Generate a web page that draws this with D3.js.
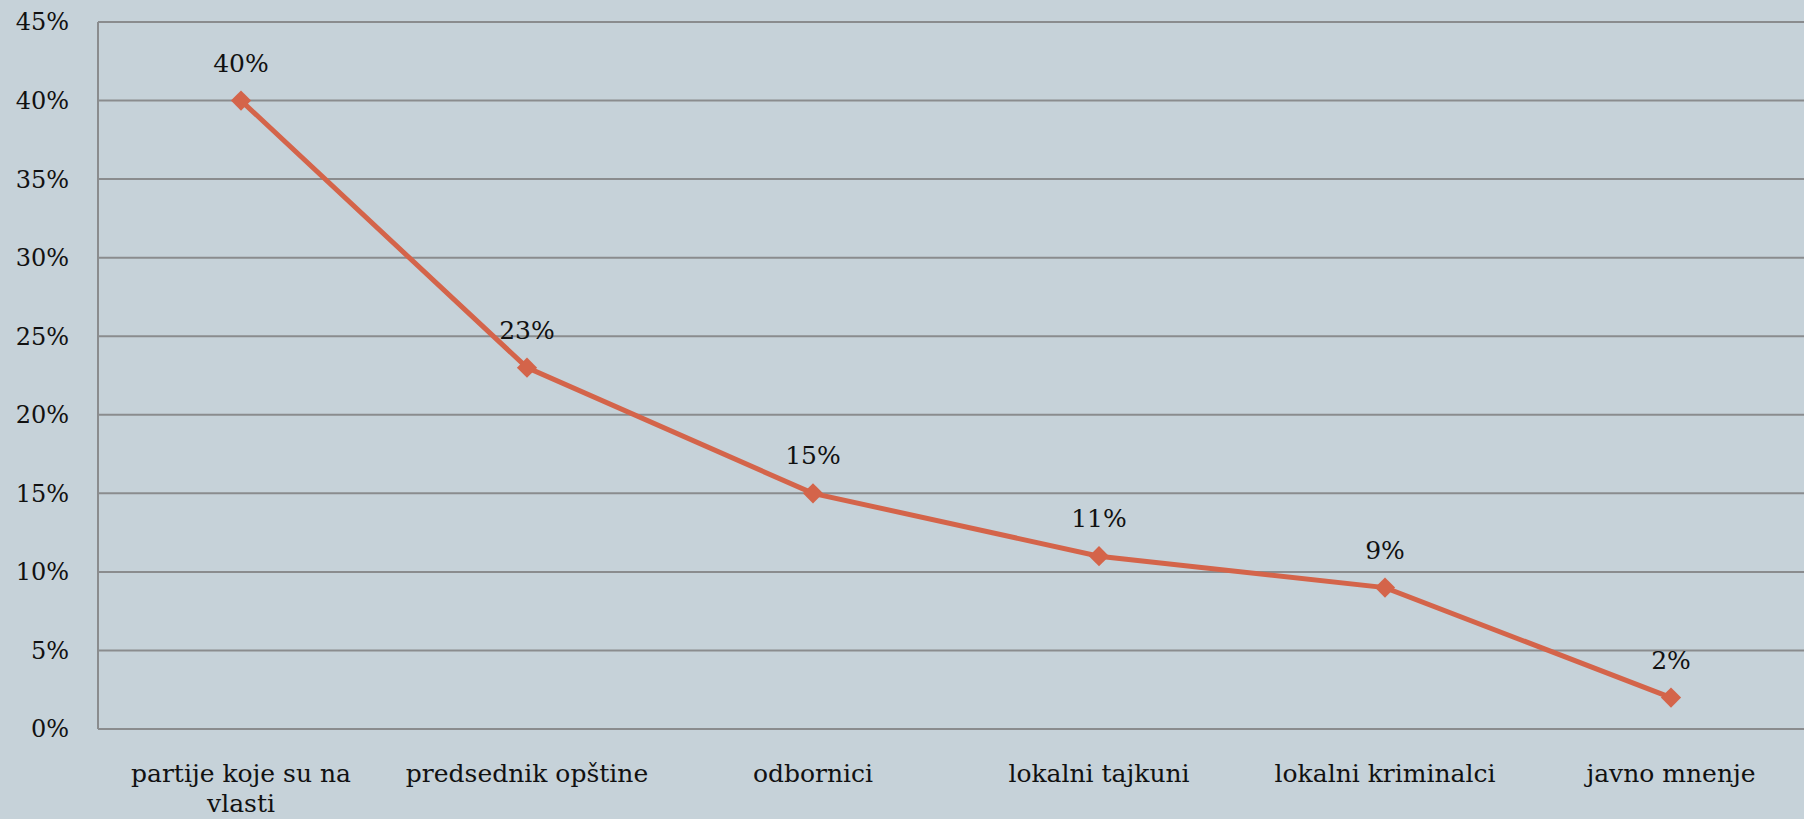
<!DOCTYPE html>
<html>
<head>
<meta charset="utf-8">
<script src="https://cdn.jsdelivr.net/npm/d3@7"></script>
<style>
  body { margin: 0; background: #c6d2d9; overflow: hidden; }
  text { font-family: "DejaVu Serif", "Liberation Serif", serif; fill: #111; }
</style>
</head>
<body>
<script>
// data
var categories = ["partije koje su na vlasti", "predsednik opštine", "odbornici", "lokalni tajkuni", "lokalni kriminalci", "javno mnenje"];
var values = [40, 23, 15, 11, 9, 2];
var yTicks = [0, 5, 10, 15, 20, 25, 30, 35, 40, 45];

var svg = d3.select("body")
    .append("svg")
    .attr("width", 1804)
    .attr("height", 819)
    .style("display", "block");

var margin = {top: 22, left: 98};
var width = 1716;
var height = 707;

var g = svg.append("g").attr("transform", "translate(" + margin.left + "," + margin.top + ")");

var x = d3.scaleBand().domain(categories).range([0, width]);
var y = d3.scaleLinear().domain([0, 45]).range([height, 0]);

// gridlines
g.selectAll(".grid")
    .data(yTicks)
    .enter()
    .append("line")
    .attr("x1", 0)
    .attr("x2", width)
    .attr("y1", function (d) { return y(d); })
    .attr("y2", function (d) { return y(d); })
    .attr("stroke", "#8a8c8e")
    .attr("stroke-width", 2);

g.append("line")
    .attr("x1", 0).attr("x2", 0)
    .attr("y1", 0).attr("y2", height)
    .attr("stroke", "#8a8c8e")
    .attr("stroke-width", 2);

// y axis labels
g.selectAll(".ylab")
    .data(yTicks)
    .enter()
    .append("text")
    .attr("x", -29)
    .attr("y", function (d) { return y(d); })
    .attr("dy", "0.35em")
    .attr("text-anchor", "end")
    .style("font-size", "24px")
    .text(function (d) { return d + "%"; });

// x axis labels, wrapped
var xl = g.selectAll(".xlab")
    .data(categories)
    .enter()
    .append("text")
    .attr("text-anchor", "middle")
    .style("font-size", "25px");

xl.each(function (d) {
    var t = d3.select(this);
    var lines = d === "partije koje su na vlasti" ? ["partije koje su na", "vlasti"] : [d];
    var cx = x(d) + x.bandwidth() / 2;
    lines.forEach(function (s, i) {
        t.append("tspan")
            .attr("x", cx)
            .attr("y", height + 53 + i * 30)
            .text(s);
    });
});

// line
var line = d3.line()
    .x(function (d, i) { return x(categories[i]) + x.bandwidth() / 2; })
    .y(function (d) { return y(d); });

g.append("path")
    .datum(values)
    .attr("d", line)
    .attr("fill", "none")
    .attr("stroke", "#d4644a")
    .attr("stroke-width", 5);

// markers
var diamond = d3.symbol().type(d3.symbolDiamond2).size(260);
g.selectAll(".mark")
    .data(values)
    .enter()
    .append("path")
    .attr("d", diamond)
    .attr("transform", function (d, i) {
        return "translate(" + (x(categories[i]) + x.bandwidth() / 2) + "," + y(d) + ")";
    })
    .attr("fill", "#d4644a");

// value labels
g.selectAll(".vlab")
    .data(values)
    .enter()
    .append("text")
    .attr("x", function (d, i) { return x(categories[i]) + x.bandwidth() / 2; })
    .attr("y", function (d) { return y(d) - 29; })
    .attr("text-anchor", "middle")
    .style("font-size", "25px")
    .text(function (d) { return d + "%"; });
</script>
</body>
</html>
